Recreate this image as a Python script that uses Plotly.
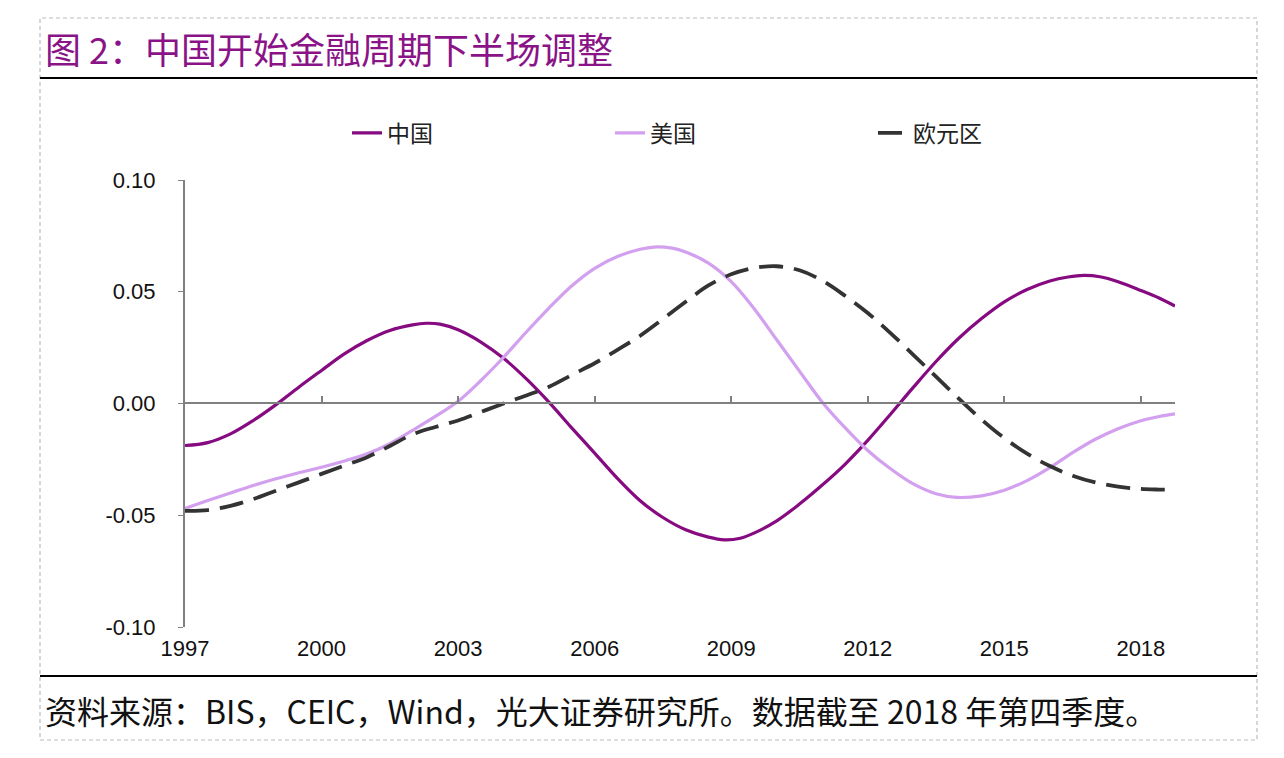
import plotly.graph_objects as go

# ---------------- data ----------------
china_x = [1997.0, 1997.5, 1998.0, 1998.5, 1999.0, 1999.5, 2000.0, 2000.5, 2001.0, 2001.5,
           2002.0, 2002.3, 2002.6, 2003.0, 2003.5, 2004.0, 2004.5, 2005.0, 2005.5, 2006.0,
           2006.5, 2007.0, 2007.5, 2008.0, 2008.5, 2008.85, 2009.2, 2009.5, 2010.0, 2010.5,
           2011.0, 2011.5, 2012.0, 2012.5, 2013.0, 2013.5, 2014.0, 2014.5, 2015.0, 2015.5,
           2016.0, 2016.4, 2016.75, 2017.1, 2017.5, 2018.0, 2018.4, 2018.75]
china_y = [-0.0188, -0.0175, -0.0136, -0.0076, -0.0005, 0.0073, 0.0148, 0.0222, 0.0282, 0.0327,
           0.0352, 0.0359, 0.0355, 0.0330, 0.0275, 0.0202, 0.0110, 0.0005, -0.0110, -0.0222,
           -0.0335, -0.0435, -0.0510, -0.0565, -0.0598, -0.0610, -0.0603, -0.0580, -0.0525, -0.0450,
           -0.0365, -0.0272, -0.0165, -0.0048, 0.0072, 0.0188, 0.0292, 0.0380, 0.0455, 0.0510,
           0.0548, 0.0566, 0.0573, 0.0567, 0.0545, 0.0506, 0.0472, 0.0436]

us_x = [1997.0, 1997.5, 1998.0, 1998.5, 1999.0, 1999.5, 2000.0, 2000.5, 2001.0, 2001.5,
        2002.0, 2002.5, 2003.0, 2003.5, 2004.0, 2004.5, 2005.0, 2005.5, 2006.0, 2006.5,
        2007.0, 2007.3, 2007.7, 2008.0, 2008.5, 2009.0, 2009.5, 2010.0, 2010.5, 2011.0,
        2011.5, 2012.0, 2012.5, 2013.0, 2013.5, 2013.95, 2014.5, 2015.0, 2015.5, 2016.0,
        2016.5, 2017.0, 2017.5, 2018.0, 2018.4, 2018.75]
us_y = [-0.0470, -0.0434, -0.0400, -0.0367, -0.0337, -0.0310, -0.0285, -0.0257, -0.0225, -0.0180,
        -0.0120, -0.0058, 0.0010, 0.0103, 0.0207, 0.0320, 0.0428, 0.0527, 0.0605, 0.0658,
        0.0690, 0.0700, 0.0695, 0.0678, 0.0628, 0.0545, 0.0425, 0.0285, 0.0145, 0.0006,
        -0.0108, -0.0210, -0.0292, -0.0360, -0.0404, -0.0420, -0.0413, -0.0388, -0.0345, -0.0287,
        -0.0220, -0.0160, -0.0113, -0.0077, -0.0058, -0.0046]

euro_x = [1997.0, 1997.5, 1998.0, 1998.5, 1999.0, 1999.5, 2000.0, 2000.5, 2001.0, 2001.5,
          2002.0, 2002.5, 2003.0, 2003.5, 2004.0, 2004.5, 2005.0, 2005.5, 2006.0, 2006.5,
          2007.0, 2007.5, 2008.0, 2008.5, 2009.0, 2009.5, 2010.0, 2010.5, 2011.0,
          2011.5, 2012.0, 2012.5, 2013.0, 2013.5, 2014.0, 2014.5, 2015.0, 2015.5, 2016.0,
          2016.5, 2017.0, 2017.5, 2018.0, 2018.4, 2018.75]
euro_y = [-0.0480, -0.0477, -0.0458, -0.0428, -0.0390, -0.0353, -0.0315, -0.0278, -0.0240, -0.0190,
          -0.0138, -0.0105, -0.0076, -0.0038, 0.0000, 0.0036, 0.0075, 0.0128, 0.0180, 0.0240,
          0.0303, 0.0378, 0.0455, 0.0528, 0.0578, 0.0606, 0.0614, 0.0596, 0.0550,
          0.0482, 0.0405, 0.0315, 0.0218, 0.0120, 0.0022, -0.0072, -0.0155, -0.0224, -0.0280,
          -0.0323, -0.0353, -0.0372, -0.0382, -0.0385, -0.0386]

x_ticks = [1997, 2000, 2003, 2006, 2009, 2012, 2015, 2018]
x_tick_labels = ["1997", "2000", "2003", "2006", "2009", "2012", "2015", "2018"]
y_ticks = [-0.10, -0.05, 0.00, 0.05, 0.10]
y_tick_labels = ["-0.10", "-0.05", "0.00", "0.05", "0.10"]

names = ["中国", "美国", "欧元区"]
title_text = "图 2：中国开始金融周期下半场调整"
source_text = "资料来源：BIS，CEIC，Wind，光大证券研究所。数据截至 2018 年第四季度。"

# ---------------- layout geometry (page pixels of the target) ----------------
PAGE_W, PAGE_H = 1284, 758
BODY = 8                      # default body margin of the html page
W, H = PAGE_W - 2 * BODY, PAGE_H - 2 * BODY
PL, PR, PT, PB = 185, 1175, 180, 627   # plot area in page pixels


def px_x(p):
    return (p - PL) / (PR - PL)


def px_y(p):
    return (PB - p) / (PB - PT)


CJK = "Noto Sans CJK SC, Liberation Sans, sans-serif"
LAT = "Liberation Sans, Arial, sans-serif"
AXIS_GRAY = "#808080"

fig = go.Figure()
fig.add_trace(go.Scatter(x=china_x, y=china_y, name=names[0], mode="lines",
                         line=dict(color="#860a80", width=3.2, shape="spline", smoothing=1.0)))
fig.add_trace(go.Scatter(x=us_x, y=us_y, name=names[1], mode="lines",
                         line=dict(color="#d2a0ee", width=3.2, shape="spline", smoothing=1.0)))
fig.add_trace(go.Scatter(x=euro_x, y=euro_y, name=names[2], mode="lines",
                         line=dict(color="#333333", width=3.8, shape="spline", smoothing=1.0,
                                   dash="24px,11px")))
# helper trace for the zero-line axis
fig.add_trace(go.Scatter(x=[x_ticks[0]], y=[0], xaxis="x2", mode="lines",
                         showlegend=False, hoverinfo="skip", line=dict(width=0)))

fig.update_layout(
    width=W, height=H,
    margin=dict(l=PL - BODY, r=W - (PR - BODY), t=PT - BODY, b=H - (PB - BODY)),
    paper_bgcolor="white", plot_bgcolor="white",
    showlegend=True,
    legend=dict(orientation="h", x=px_x(347), y=px_y(133), xanchor="left", yanchor="middle",
                font=dict(family=CJK, size=23, color="#222222"),
                entrywidth=218, entrywidthmode="pixels", itemwidth=30,
                bgcolor="rgba(0,0,0,0)"),
    xaxis=dict(range=[1997, 2018.75], tickmode="array", tickvals=x_ticks, ticktext=x_tick_labels,
               showline=False, showgrid=False, zeroline=False, ticks="",
               tickfont=dict(family=LAT, size=22, color="#111111"), ticklabelstandoff=6),
    xaxis2=dict(range=[1997, 2018.75], overlaying="x", anchor="free", position=px_y(403),
                tickmode="array", tickvals=x_ticks, showticklabels=False,
                showline=True, linecolor=AXIS_GRAY, linewidth=1.5,
                ticks="inside", ticklen=6, tickcolor=AXIS_GRAY, tickwidth=1.5,
                showgrid=False, zeroline=False),
    yaxis=dict(range=[-0.10, 0.10], tickmode="array", tickvals=y_ticks, ticktext=y_tick_labels,
               showline=True, linecolor=AXIS_GRAY, linewidth=2,
               ticks="outside", ticklen=5, tickcolor=AXIS_GRAY, tickwidth=1.2,
               showgrid=False, zeroline=False,
               tickfont=dict(family=LAT, size=22, color="#111111"), ticklabelstandoff=18),
)

# decorations: dashed frame, header / footer rules
fig.add_shape(type="rect", xref="paper", yref="paper",
              x0=px_x(40), x1=px_x(1257), y0=px_y(740), y1=px_y(18),
              line=dict(color="#bbbbbb", width=1.2, dash="4px,3px"), layer="below")
fig.add_shape(type="line", xref="paper", yref="paper",
              x0=px_x(40), x1=px_x(1257), y0=px_y(78), y1=px_y(78),
              line=dict(color="black", width=2.2))
fig.add_shape(type="line", xref="paper", yref="paper",
              x0=px_x(40), x1=px_x(1257), y0=px_y(676), y1=px_y(676),
              line=dict(color="black", width=2.2))

fig.add_annotation(text=title_text, xref="paper", yref="paper", x=px_x(43), y=px_y(48),
                   xanchor="left", yanchor="middle", showarrow=False,
                   font=dict(family=CJK, size=36, color="#8a1487"))
fig.add_annotation(text=source_text, xref="paper", yref="paper", x=px_x(43), y=px_y(710),
                   xanchor="left", yanchor="middle", showarrow=False,
                   font=dict(family=CJK, size=32, color="#111111"))

fig.write_html("out.html")
